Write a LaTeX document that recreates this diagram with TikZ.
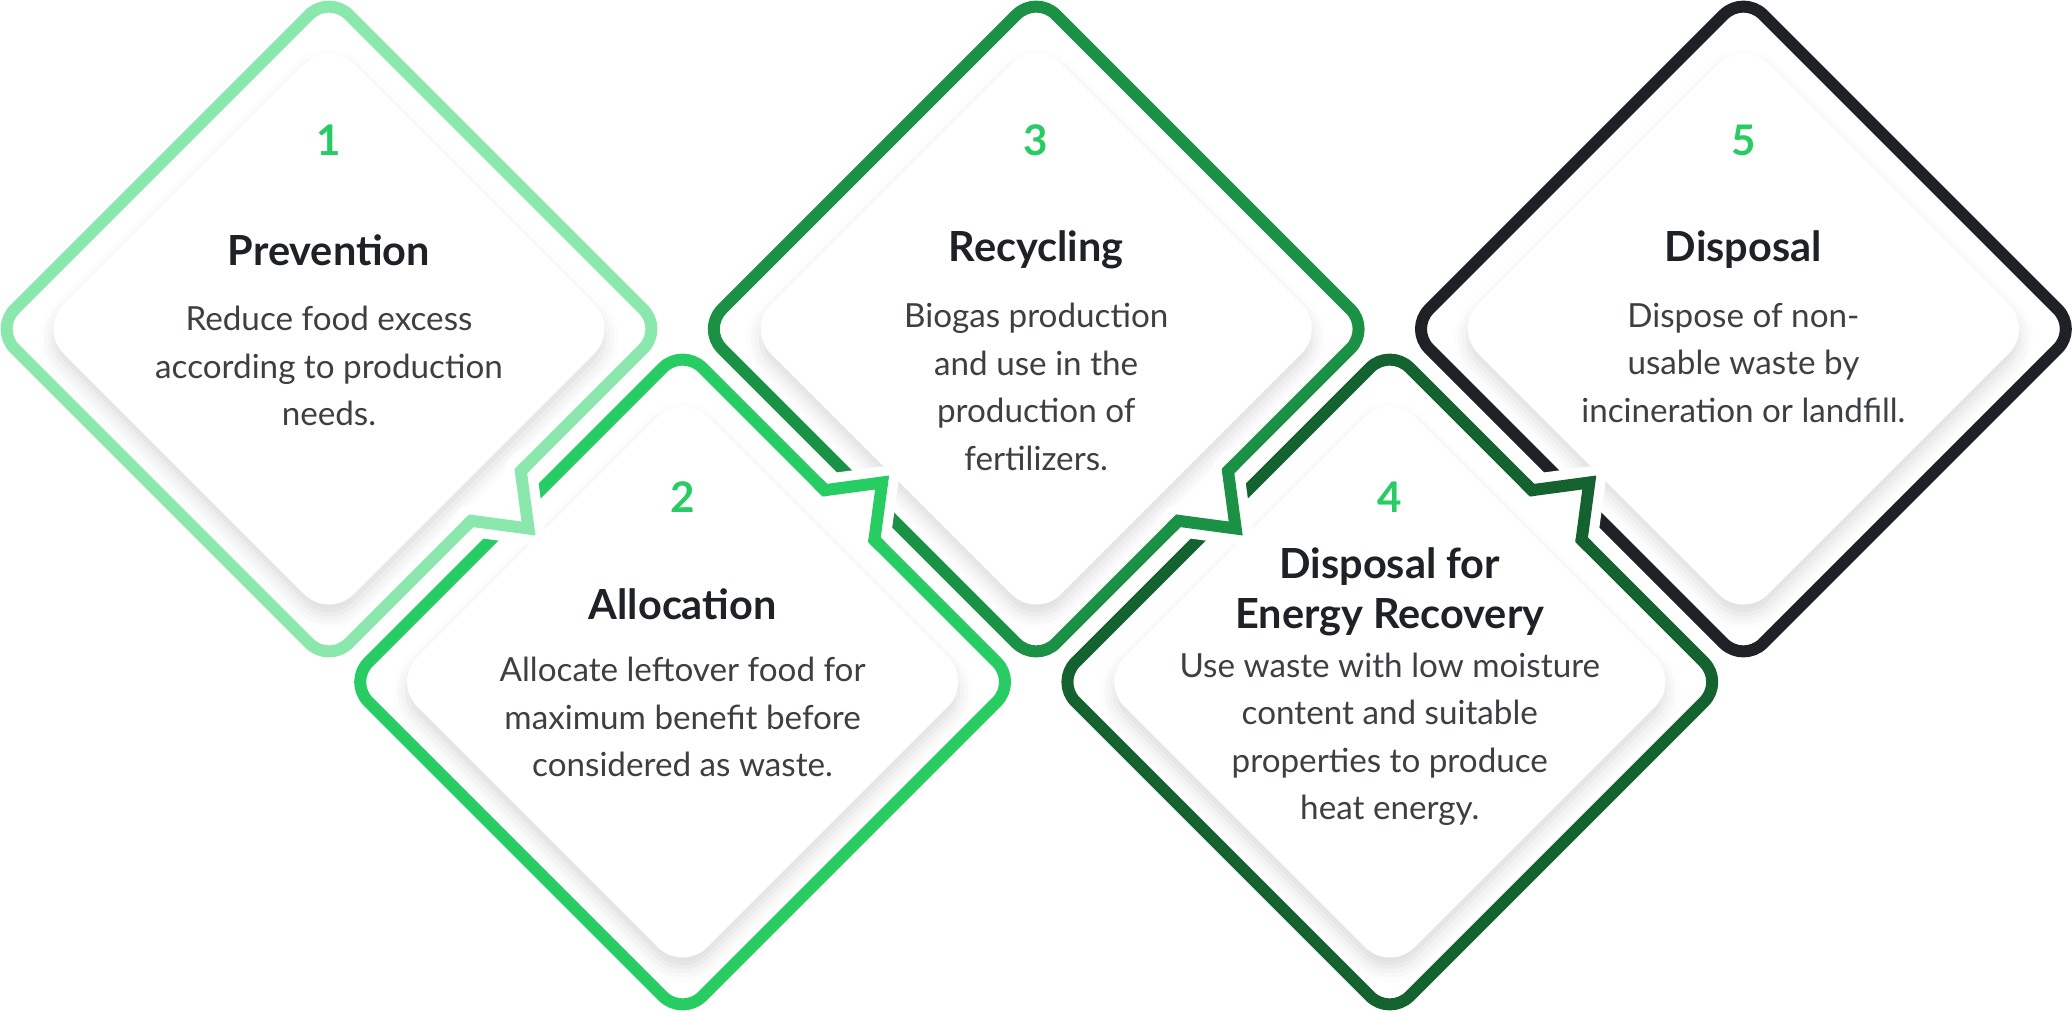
\documentclass[tikz,border=0pt]{standalone}
\usepackage{fontspec}
\setmainfont{Lato}
\usetikzlibrary{shadows.blur}
\definecolor{gA}{HTML}{8BE8AC}
\definecolor{gB}{HTML}{27CC63}
\definecolor{gC}{HTML}{1B9146}
\definecolor{gD}{HTML}{146230}
\definecolor{gE}{HTML}{1E2125}
\definecolor{ink}{HTML}{1E2125}
\definecolor{txt}{HTML}{3D3F42}
\begin{document}
\begin{tikzpicture}[line join=round, line cap=round,
	frame/.style={line width=1.2mm, rounded corners=2.8mm},
	notch/.style={line width=1.2mm, line join=miter, line cap=butt},
	knock/.style={line width=3.2mm, white},
	card/.style={fill=white, rounded corners=3.5mm, blur shadow={shadow xshift=0mm, shadow yshift=-1mm, shadow blur radius=1.4mm, shadow opacity=14}},
	num/.style={font=\fontsize{12}{13}\selectfont\bfseries, text=gB},
	ttl/.style={font=\fontsize{11.8}{14.2}\selectfont\bfseries, text=ink, align=center},
	body/.style={font=\fontsize{9.45}{13.5}\selectfont, text=txt, align=center}]
	\useasboundingbox (0,0) rectangle (20.72,10.12);
	\def\D{3.34} \def\C{2.90}
	\foreach \x/\y in {3.29/6.83, 6.826/3.30, 10.362/6.83, 13.898/3.30, 17.434/6.83}
		\fill[card, shift={(\x,\y)}] (-\C/2,\C/2) -- (0,\C) -- (\C,0) -- (0,-\C) -- (-\C,0) -- cycle;
	\foreach \x/\y/\s/\col in {17.434/6.83/0/gE, 13.898/3.30/1/gD, 10.362/6.83/-1/gC, 6.826/3.30/1/gB, 3.29/6.83/-1/gA}{
		\begin{scope}[shift={(\x,\y)}]
			\ifnum\s=0
				\draw[frame, \col] (-\D/2,\D/2) -- (0,\D) -- (\D,0) -- (0,-\D) -- (-\D,0) -- cycle;
			\else
				\pgfmathsetmacro\t{-\s}
				\draw[knock] (1.988,\s*1.352) -- (1.918,\s*1.422) -- (1.995,\s*1.995) -- (1.422,\s*1.918) -- (1.352,\s*1.988);
				\draw[frame, \col] (1.918,\s*1.422) -- (\D,0) -- (0,\t*\D) -- (-\D,0) -- (0,\s*\D) -- (1.422,\s*1.918);
				\draw[notch, \col] (1.988,\s*1.352) -- (1.918,\s*1.422) -- (1.995,\s*1.995) -- (1.422,\s*1.918) -- (1.352,\s*1.988);
			\fi
		\end{scope}
	}
	\node[num] (n1) at (3.29,8.72) {1};
	\node[ttl] (t1) at (3.29,7.62) {Prevention};
	\node[body] (b1) at (3.29,6.46) {Reduce food excess\\according to production\\needs.};
	\node[num] (n2) at (6.826,5.15) {2};
	\node[ttl] (t2) at (6.826,4.08) {Allocation};
	\node[body] (b2) at (6.826,2.95) {Allocate leftover food for\\maximum benefit before\\considered as waste.};
	\node[num] (n3) at (10.362,8.72) {3};
	\node[ttl] (t3) at (10.362,7.62) {Recycling};
	\node[body] (b3) at (10.362,6.25) {Biogas production\\and use in the\\production of\\fertilizers.};
	\node[num] (n4) at (13.898,5.15) {4};
	\node[ttl] (t4) at (13.898,4.20) {Disposal for\\Energy Recovery};
	\node[body] (b4) at (13.898,2.725) {Use waste with low moisture\\content and suitable\\properties to produce\\heat energy.};
	\node[num] (n5) at (17.434,8.72) {5};
	\node[ttl] (t5) at (17.434,7.62) {Disposal};
	\node[body] (b5) at (17.434,6.49) {Dispose of non-\\usable waste by\\incineration or landfill.};
\end{tikzpicture}
\end{document}
